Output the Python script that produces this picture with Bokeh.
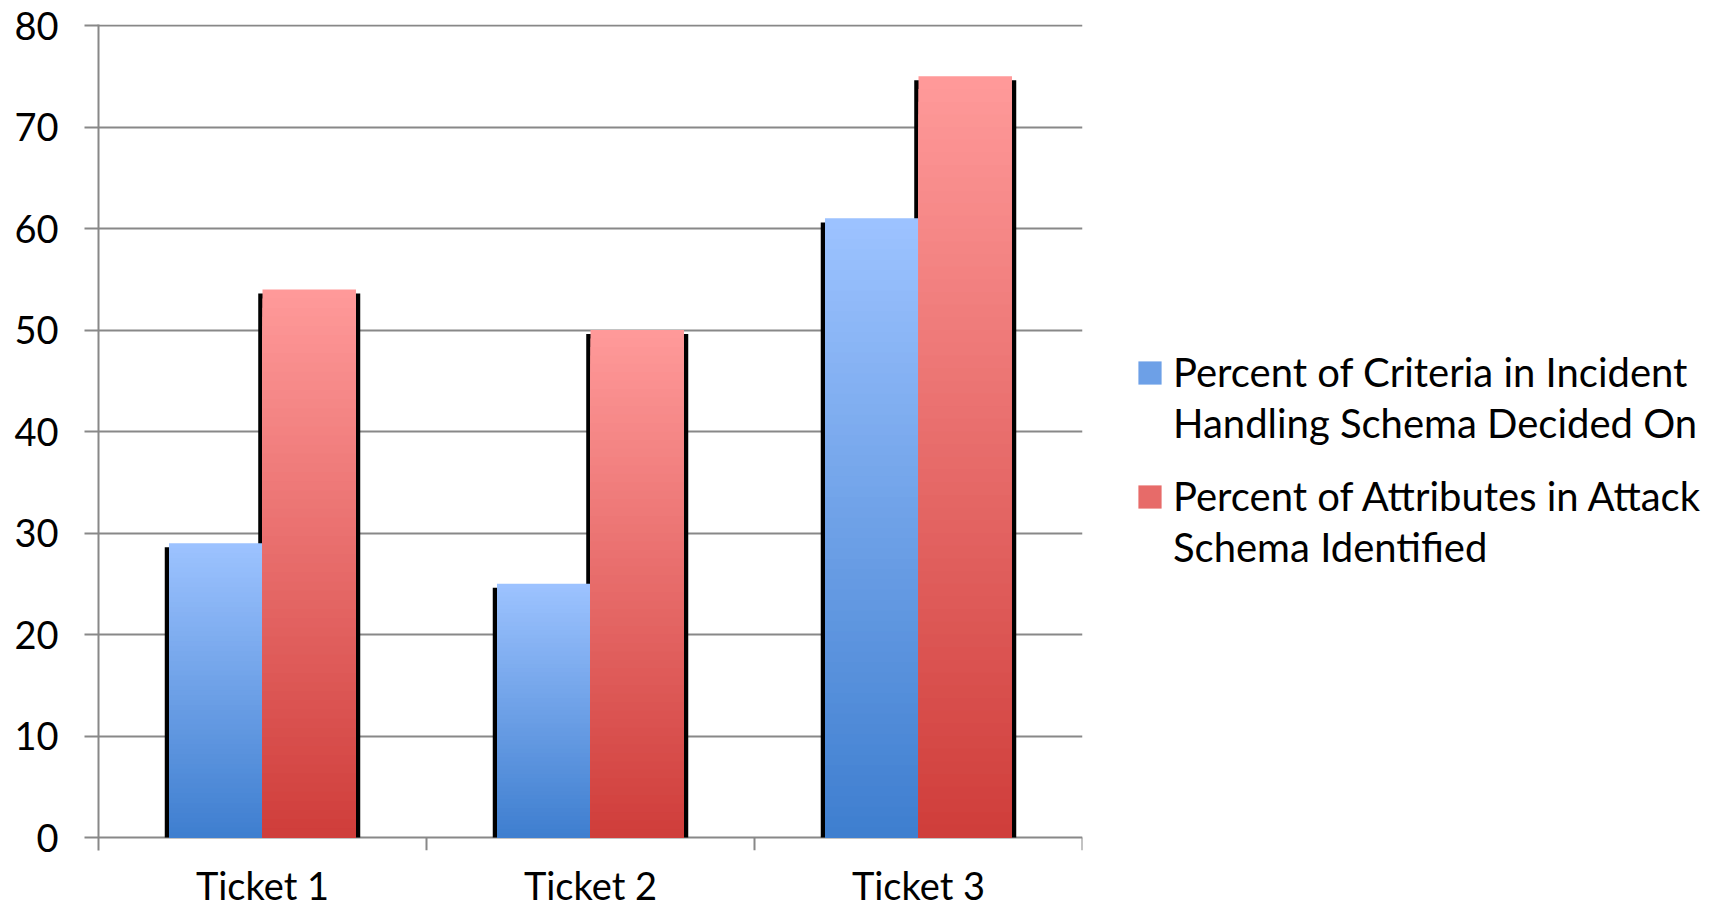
import numpy as np
from bokeh.plotting import figure
from bokeh.layouts import row
from bokeh.models import (ColumnDataSource, FactorRange, Range1d, FixedTicker,
                          Legend, LegendItem)
from bokeh.transform import dodge
from bokeh.embed import file_html
from bokeh.resources import INLINE

# ---- data ----
tickets = ["Ticket 1", "Ticket 2", "Ticket 3"]
criteria = [29, 25, 61]
attributes = [54, 50, 75]
series_lines = [
    ["Percent of Criteria in Incident", "Handling Schema Decided On"],
    ["Percent of Attributes in Attack", "Schema Identified"],
]
y_ticks = [0, 10, 20, 30, 40, 50, 60, 70, 80]

# ---- styles ----
BLUE_TOP, BLUE_BOT = (157, 195, 255), (62, 126, 207)
RED_TOP, RED_BOT = (255, 154, 154), (207, 61, 58)
GRID = "#888888"
FONT = "Lato"
N_SLICES = 60
BAR_W = 0.285
OFF = 0.1425


def hexc(c):
    return "#%02x%02x%02x" % tuple(int(round(v)) for v in c)


def gradient_source(values, top_c, bot_c):
    xs, tops, cols = [], [], []
    for cat, v in zip(tickets, values):
        for k in range(N_SLICES):
            frac = (N_SLICES - k) / N_SLICES
            mid = frac - 0.5 / N_SLICES
            c = [b + (t - b) * mid for t, b in zip(top_c, bot_c)]
            xs.append(cat)
            tops.append(v * frac)
            cols.append(hexc(c))
    return ColumnDataSource(dict(x=xs, top=tops, color=cols))


p = figure(width=1084, height=911,
           x_range=FactorRange(*tickets, range_padding=0),
           y_range=Range1d(-1.28, 80.1),
           min_border_left=98, min_border_right=2,
           min_border_top=24, min_border_bottom=61,
           output_backend="svg", toolbar_location=None)
p.outline_line_color = None
p.xgrid.grid_line_color = None
p.ygrid.grid_line_color = GRID
p.ygrid.grid_line_width = 2
p.ygrid.ticker = FixedTicker(ticks=y_ticks)

# y axis
p.yaxis.ticker = FixedTicker(ticks=y_ticks)
p.yaxis.axis_line_color = GRID
p.yaxis.axis_line_width = 2
p.yaxis.major_tick_line_color = GRID
p.yaxis.major_tick_line_width = 2
p.yaxis.major_tick_out = 14
p.yaxis.major_tick_in = 0
p.yaxis.minor_tick_line_color = None
p.yaxis.major_label_standoff = 26
p.yaxis.major_label_text_font = FONT
p.yaxis.major_label_text_font_size = "38px"
p.yaxis.major_label_text_color = "black"

# x axis (labels only)
p.xaxis.axis_line_color = None
p.xaxis.major_tick_line_color = None
p.xaxis.major_tick_out = 0
p.xaxis.major_tick_in = 0
p.xaxis.major_label_standoff = 11
p.xaxis.major_label_text_font = FONT
p.xaxis.major_label_text_font_size = "38px"
p.xaxis.major_label_text_color = "black"

# category boundary ticks (below the zero line)
p.segment(x0=dodge("x", -0.5, range=p.x_range), x1=dodge("x", -0.5, range=p.x_range),
          y0=0, y1=p.y_range.start, source=ColumnDataSource(dict(x=tickets[1:])),
          line_color=GRID, line_width=2)
p.segment(x0=dodge("x", 0.5, range=p.x_range), x1=dodge("x", 0.5, range=p.x_range),
          y0=0, y1=p.y_range.start, source=ColumnDataSource(dict(x=tickets[-1:])),
          line_color=GRID, line_width=2)

# shadows
sh_src_b = ColumnDataSource(dict(x=tickets, top=[v - 0.4 for v in criteria]))
sh_src_r = ColumnDataSource(dict(x=tickets, top=[v - 0.4 for v in attributes]))
p.vbar(x=dodge("x", -OFF, range=p.x_range), top="top", bottom=0, width=BAR_W + 0.026,
       source=sh_src_b, fill_color="black", line_color=None)
p.vbar(x=dodge("x", OFF, range=p.x_range), top="top", bottom=0, width=BAR_W + 0.026,
       source=sh_src_r, fill_color="black", line_color=None)

# gradient bars
p.vbar(x=dodge("x", -OFF, range=p.x_range), top="top", bottom=0, width=BAR_W,
       source=gradient_source(criteria, BLUE_TOP, BLUE_BOT),
       fill_color="color", line_color=None)
p.vbar(x=dodge("x", OFF, range=p.x_range), top="top", bottom=0, width=BAR_W,
       source=gradient_source(attributes, RED_TOP, RED_BOT),
       fill_color="color", line_color=None)

# ---- legend panel ----
lf = figure(width=627, height=911, x_range=Range1d(0, 1), y_range=Range1d(0, 1),
            min_border=0, x_axis_location=None, y_axis_location=None,
            output_backend="svg", toolbar_location=None)
lf.outline_line_color = None
lf.xgrid.visible = False
lf.ygrid.visible = False
lb = lf.vbar(x=[0.5], top=[0], bottom=[0], width=0.0,
             fill_color="#6da0e7", line_color=None)
lr = lf.vbar(x=[0.5], top=[0], bottom=[0], width=0.0,
             fill_color="#e76b69", line_color=None)
blank = lf.vbar(x=[0.5], top=[0], bottom=[0], width=0.0,
                fill_alpha=0, line_alpha=0)


def make_legend(lines, glyph_r, loc):
    lg = Legend(items=[LegendItem(label=lines[0], renderers=[glyph_r]),
                       LegendItem(label=lines[1], renderers=[blank])],
                location=loc)
    lg.border_line_color = None
    lg.background_fill_alpha = 0
    lg.padding = 0
    lg.margin = 0
    lg.spacing = 3
    lg.glyph_width = 29
    lg.glyph_height = 29
    lg.label_standoff = 9
    lg.label_text_font = FONT
    lg.label_text_font_size = "40px"
    lg.label_text_color = "black"
    return lg


lf.add_layout(make_legend(series_lines[0], lb, (51, 403)))
lf.add_layout(make_legend(series_lines[1], lr, (51, 279)))

layout = row(p, lf, spacing=0)
open("out.html", "w").write(file_html(layout, INLINE))
